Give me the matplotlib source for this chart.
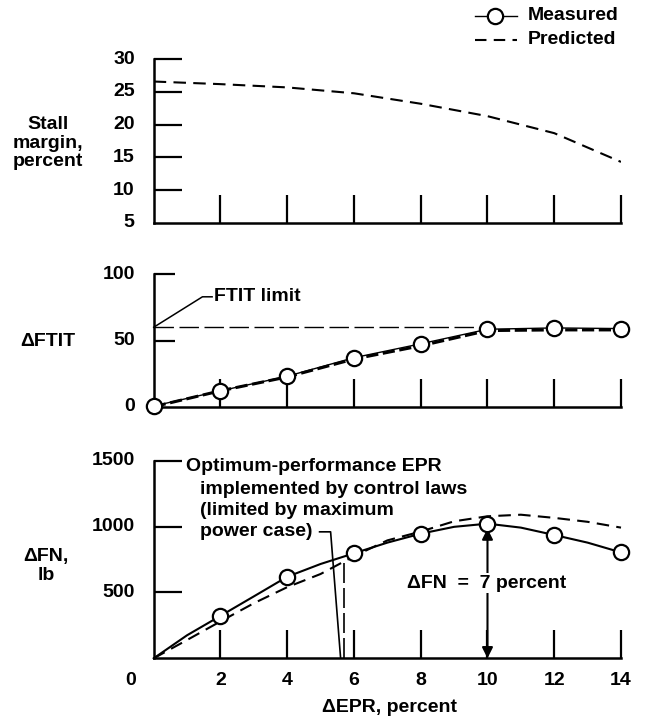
import matplotlib
matplotlib.use("Agg")
import matplotlib.pyplot as plt
from matplotlib.lines import Line2D

plt.rcParams['font.family'] = ['Liberation Sans', 'DejaVu Sans']
plt.rcParams['font.weight'] = 'bold'

# ---------------- data ----------------
epr_ticks = [0, 2, 4, 6, 8, 10, 12, 14]

# Stall margin (predicted only)
stall_x = [0, 2, 4, 6, 8, 10, 12, 14]
stall_pred = [26.6, 26.2, 25.7, 24.8, 23.2, 21.3, 18.7, 14.3]

# Delta FTIT
ftit_x = [0, 2, 4, 6, 8, 10, 12, 14]
ftit_meas = [0.5, 12, 23, 37, 47.5, 58.5, 59.5, 59]
ftit_pred = [0, 12, 22.5, 36, 46, 57.5, 58, 58]
ftit_limit = 60

# Delta FN
fn_x = [2, 4, 6, 8, 10, 12, 14]
fn_meas = [322, 619, 797, 946, 1022, 936, 804]
fn_fair_x = [0, 1, 2, 3, 4, 5, 6, 7, 8, 9, 10, 11, 12, 13, 14]
fn_fair = [0, 175, 322, 470, 619, 716, 797, 878, 946, 998, 1022, 992, 936, 878, 804]
fn_pred_x = [0, 1, 2, 3, 4, 5, 6, 7, 8, 9, 10, 11, 12, 13, 14]
fn_pred = [0, 139, 280, 418, 540, 640, 775, 895, 962, 1040, 1078, 1090, 1066, 1036, 992]
opt_epr = 5.7
opt_fn = 746
arrow_epr = 10
arrow_top = 985

annot_lines = ['Optimum-performance EPR', 'implemented by control laws',
               '(limited by maximum', 'power case)']

# ---------------- figure ----------------
W, H = 649, 723
fig = plt.figure(figsize=(W / 100, H / 100), dpi=100)
FS = 14


def fx(px):
    return px / W


def fy(py):
    return 1 - py / H


left = fx(153.7)
width = fx(621) - left
XPX = (621 - 153.7) / 14.0  # pixels per EPR unit


def make_ax(top_px, bot_px):
    ax = fig.add_axes([left, fy(bot_px), width, (bot_px - top_px) / H])
    for s in ['top', 'right']:
        ax.spines[s].set_visible(False)
    for s in ['left', 'bottom']:
        ax.spines[s].set_linewidth(1.8)
    ax.tick_params(direction='in', length=20, width=1.6, labelsize=FS, pad=6)
    ax.set_xlim(0, 14)
    ax.set_xticks(epr_ticks[1:])
    ax.set_xticklabels([])
    return ax


LBL_OFF = -19 / XPX

# Top panel
ax1 = make_ax(59.3, 222.7)
ax1.set_ylim(5, 30)
ax1.set_yticks([10, 15, 20, 25, 30])
ax1.set_yticklabels([])
for v in [5, 10, 15, 20, 25, 30]:
    ax1.text(LBL_OFF, v, str(v), ha='right', va='center', fontsize=FS, fontweight='bold', clip_on=False)
ax1.plot(stall_x, stall_pred, color='black', lw=1.5, ls=(0, (6, 3.5)))
fig.text(fx(48), fy(143), 'Stall\nmargin,\npercent', ha='center', va='center',
         fontsize=FS, fontweight='bold', linespacing=1.15)

# Middle panel
ax2 = make_ax(274.3, 406.7)
ax2.set_ylim(0, 100)
ax2.set_yticks([50, 100])
ax2.set_yticklabels([])
ax2.tick_params(axis='y', length=15)
for v in [0, 50, 100]:
    ax2.text(LBL_OFF, v, str(v), ha='right', va='center', fontsize=FS, fontweight='bold', clip_on=False)
ax2.plot([0, 10], [ftit_limit, ftit_limit], color='black', lw=1.0, ls=(0, (14, 4)))
ax2.plot(ftit_x, ftit_pred, color='black', lw=2.2, ls=(0, (4, 1.5)), zorder=3)
ax2.plot(ftit_x, ftit_meas, color='black', lw=1.0, marker='o', ms=11, mfc='white',
         mec='black', mew=1.6, clip_on=False, zorder=4)
ax2.plot([0, 1.46, 1.75], [ftit_limit, 83, 83], color='black', lw=1.1, clip_on=False)
ax2.text(1.8, 83, 'FTIT limit', ha='left', va='center', fontsize=FS, fontweight='bold')
fig.text(fx(47.5), fy(341.7), '\u0394FTIT', ha='center', va='center', fontsize=FS, fontweight='bold')

# Bottom panel
ax3 = make_ax(460.7, 658.3)
ax3.set_ylim(0, 1500)
ax3.set_yticks([500, 1000, 1500])
ax3.set_yticklabels([])
for v in [500, 1000, 1500]:
    ax3.text(LBL_OFF, v, str(v), ha='right', va='center', fontsize=FS, fontweight='bold', clip_on=False)
ax3.set_xticklabels([])
for v in epr_ticks[1:]:
    ax3.text(v, -165, str(v), ha='center', va='center', fontsize=FS, fontweight='bold', clip_on=False)
ax3.text(-0.7, -165, '0', ha='center', va='center', fontsize=FS, fontweight='bold', clip_on=False)
ax3.plot(fn_pred_x, fn_pred, color='black', lw=1.5, ls=(0, (6, 3.5)), clip_on=False)
ax3.plot(fn_fair_x, fn_fair, color='black', lw=1.5, clip_on=False)
ax3.plot(fn_x, fn_meas, ls='none', marker='o', ms=11, mfc='white', mec='black', mew=1.6,
         clip_on=False, zorder=4)
ax3.plot([opt_epr, opt_epr], [0, opt_fn], color='black', lw=1.2, ls=(0, (12, 3)))
ax3.plot([4.97, 5.30, 5.60], [960, 960, 0], color='black', lw=1.2)
annot_y_px = [466, 489.3, 510.7, 531.7]
annot_x_px = [186, 200, 200, 200]
for txt, xp, yp in zip(annot_lines, annot_x_px, annot_y_px):
    fig.text(fx(xp), fy(yp), txt, ha='left', va='center', fontsize=FS, fontweight='bold')
ax3.annotate('', xy=(arrow_epr, arrow_top), xytext=(arrow_epr, 0),
             arrowprops=dict(arrowstyle='<|-|>', color='black', lw=1.5, mutation_scale=16,
                             shrinkA=0, shrinkB=0))
fig.text(fx(486.5), fy(583.3), '\u0394FN  =  7 percent', ha='center', va='center', fontsize=FS,
         fontweight='bold', bbox=dict(facecolor='white', edgecolor='none', pad=1))
fig.text(fx(46), fy(566), '\u0394FN,\nlb', ha='center', va='center', fontsize=FS, fontweight='bold',
         linespacing=1.15)
fig.text(fx(389), fy(708), '\u0394EPR, percent', ha='center', va='center', fontsize=FS, fontweight='bold')

# Legend
fig.add_artist(Line2D([fx(475), fx(495), fx(517)], [fy(16)] * 3, transform=fig.transFigure,
                      color='black', lw=1.0, marker='o', markevery=[1], ms=11, mfc='white',
                      mec='black', mew=1.6))
fig.add_artist(Line2D([fx(475), fx(517)], [fy(40)] * 2, transform=fig.transFigure,
                      color='black', lw=1.5, ls=(0, (5.5, 3.5))))
fig.text(fx(528), fy(16), 'Measured', ha='left', va='center', fontsize=FS, fontweight='bold')
fig.text(fx(528), fy(40), 'Predicted', ha='left', va='center', fontsize=FS, fontweight='bold')

fig.savefig('out.png', dpi=100, facecolor='white')
